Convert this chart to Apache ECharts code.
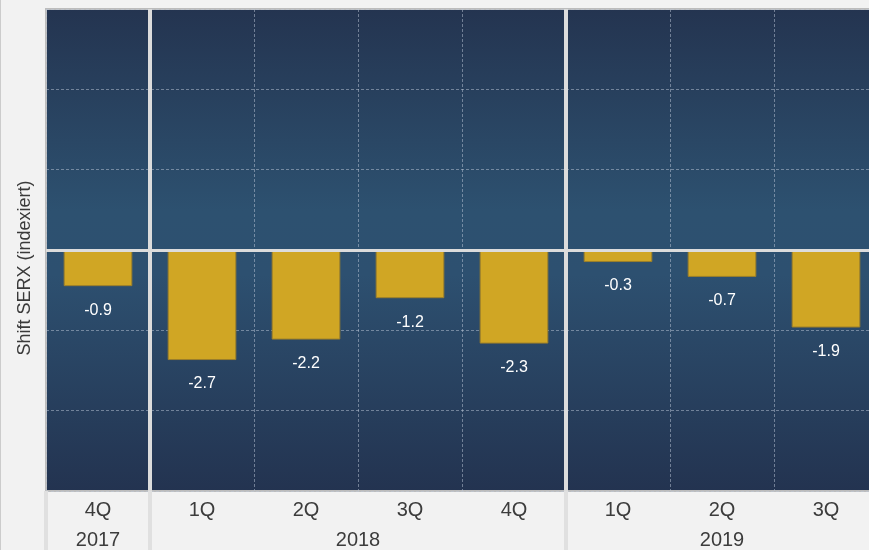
<!DOCTYPE html>
<html>
<head>
<meta charset="utf-8">
<script src="https://cdn.jsdelivr.net/npm/echarts@6/dist/echarts.min.js"></script>
<style>
html,body{margin:0;padding:0;background:#f2f2f2;}
#chart{width:869px;height:550px;}
</style>
</head>
<body>
<div id="chart"></div>
<script>
const quarters = ['4Q', '1Q', '2Q', '3Q', '4Q', '1Q', '2Q', '3Q'];
const values = [-0.9, -2.74, -2.23, -1.2, -2.33, -0.3, -0.67, -1.93];
const years = ['2017', '2018', '2019'];
const yearSizes = [1, 4, 3];
const yAxisName = 'Shift SERX (indexiert)';

// year label positions (center of each group, in category units) and group boundaries
const yearCenters = {};
const groupBounds = [0];
let acc = 0;
yearSizes.forEach((n, i) => { yearCenters[(acc + n / 2).toFixed(1)] = years[i]; acc += n; groupBounds.push(acc); });

const FONT = '"Liberation Sans", Arial, sans-serif';
const chart = echarts.init(document.getElementById('chart'), null, {renderer: 'canvas'});
chart.setOption({
  backgroundColor: '#f2f2f2',
  animation: false,
  grid: {
    left: 46, top: 9, width: 832, height: 482,
    outerBoundsMode: 'none',
    containLabel: false,
    show: true,
    borderColor: '#bcbcbc', borderWidth: 2,
    backgroundColor: {
      type: 'linear', x: 0, y: 0, x2: 0, y2: 1,
      colorStops: [
        {offset: 0, color: '#243450'},
        {offset: 0.42, color: '#2d5170'},
        {offset: 0.55, color: '#2d5070'},
        {offset: 1, color: '#233350'}
      ]
    }
  },
  xAxis: [
    {
      type: 'category', data: quarters, position: 'bottom',
      axisLine: {show: false}, axisTick: {show: false},
      axisLabel: {color: '#3c3c3c', fontSize: 20, fontFamily: FONT, margin: 9, interval: 0},
      splitLine: {show: true, lineStyle: {color: 'rgba(190,200,215,0.5)', type: [3, 2], width: 1}}
    },
    {
      type: 'category', data: quarters, position: 'bottom',
      axisLine: {show: false},
      axisLabel: {show: false},
      axisTick: {show: true, length: 60, inside: false, interval: (i) => groupBounds.indexOf(i) >= 0,
        lineStyle: {color: '#e0e0e0', width: 4}},
      splitLine: {show: true, interval: (i) => i > 0 && groupBounds.indexOf(i) >= 0,
        lineStyle: {color: '#dcdcdc', width: 4, type: 'solid'}}
    },
    {
      type: 'value', min: 0, max: 8, interval: 0.5, position: 'bottom',
      axisLine: {show: false}, axisTick: {show: false}, splitLine: {show: false},
      axisLabel: {color: '#3c3c3c', fontSize: 20, fontFamily: FONT, margin: 39,
        showMinLabel: true, showMaxLabel: true,
        formatter: (v) => yearCenters[v.toFixed(1)] || ''}
    }
  ],
  yAxis: {
    type: 'value', min: -6, max: 6, interval: 2,
    axisLine: {show: false}, axisTick: {show: false}, axisLabel: {show: false},
    splitLine: {show: true, lineStyle: {color: 'rgba(190,200,215,0.5)', type: [3, 2], width: 1}}
  },
  graphic: [
    {type: 'text', x: 25, y: 268, rotation: Math.PI / 2,
      style: {text: yAxisName, fill: '#3a3a3a', font: '18px ' + FONT, textAlign: 'center', textVerticalAlign: 'middle'}},
    {type: 'rect', shape: {x: 0, y: 0, width: 1, height: 550}, style: {fill: '#cccccc'}}
  ],
  series: [{
    type: 'bar', data: values, xAxisIndex: 0, yAxisIndex: 0,
    barWidth: '66%',
    itemStyle: {color: '#d0a624', borderColor: '#9c7f2a', borderWidth: 1},
    label: {show: true, position: 'bottom', distance: 16, color: '#ffffff', fontSize: 16, fontFamily: FONT,
      formatter: (p) => p.value.toFixed(1)},
    markLine: {
      silent: true, symbol: 'none', label: {show: false},
      lineStyle: {color: '#dcdcdc', width: 3, type: 'solid'},
      data: [{yAxis: 0}]
    }
  }]
});
</script>
</body>
</html>
